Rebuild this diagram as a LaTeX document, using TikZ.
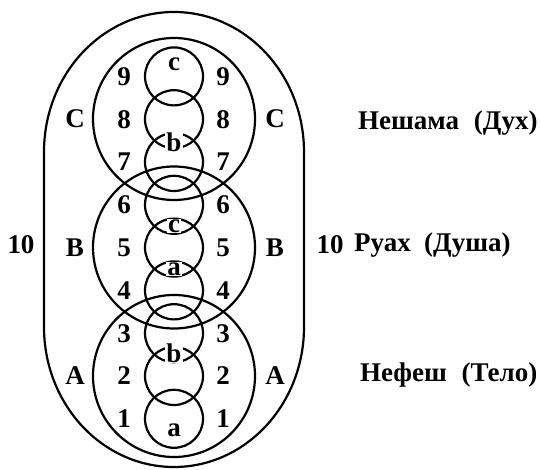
\documentclass[tikz,border=0pt]{standalone}
\usepackage{fontspec}
\setmainfont{Liberation Serif}[BoldFont={Liberation Serif Bold}]
\begin{document}
\begin{tikzpicture}[x=1pt,y=-1pt,line width=2.2pt,
  lbl/.style={font=\fontsize{27}{27}\selectfont\bfseries,inner sep=0pt},
  lens/.style={lbl,fill=white,inner sep=1pt},
  ring/.style={draw,circle,inner sep=0pt}]
\useasboundingbox (0,0) rectangle (541,470);
% outer shape
\draw (44,327) -- (44,152) arc[start angle=180,end angle=360,x radius=130,y radius=140]
      -- (304,327) arc[start angle=0,end angle=180,x radius=130,y radius=140] -- cycle;
% big circles
\node[ring,minimum size=162pt] (bigC) at (174,119) {};
\node[ring,minimum size=162pt] (bigB) at (174,247.5) {};
\node[ring,minimum size=162pt] (bigA) at (174,376) {};
% small circles and numbers
\foreach \k in {1,...,9}{
  \pgfmathsetmacro{\yy}{418.8-(\k-1)*42.8}
  \node[ring,minimum size=58pt] (s\k) at (174,\yy) {};
  \node[lbl] (nl\k) at (124,\yy) {\k};
  \node[lbl] (nr\k) at (223,\yy) {\k};
}
% lens labels
\node[lbl] (tc) at (174,64) {c};
\node[lens] (lb1) at (174,142) {b};
\node[lens] (lc) at (174,226) {c};
\node[lens] (la) at (174,269) {a};
\node[lens] (lb2) at (174,353) {b};
\node[lbl] (ba) at (174,430) {a};
% big letters
\node[lbl] (CL) at (75,119) {C};
\node[lbl] (CR) at (275,119) {C};
\node[lbl] (BL) at (75,247.5) {B};
\node[lbl] (BR) at (275,247.5) {B};
\node[lbl] (AL) at (75,376) {A};
\node[lbl] (AR) at (275,376) {A};
% tens
\node[lbl] (tenL) at (21,245) {10};
\node[lbl] (tenR) at (330,245) {10};
% names
\node[lbl,anchor=west] (nesh) at (357,123) {Нешама\hspace{0.55em}(Дух)};
\node[lbl,anchor=west] (ruah) at (353,245) {Руах\hspace{0.5em}(Душа)};
\node[lbl,anchor=west] (nef) at (359,375) {Нефеш\hspace{0.55em}(Тело)};
\end{tikzpicture}
\end{document}
